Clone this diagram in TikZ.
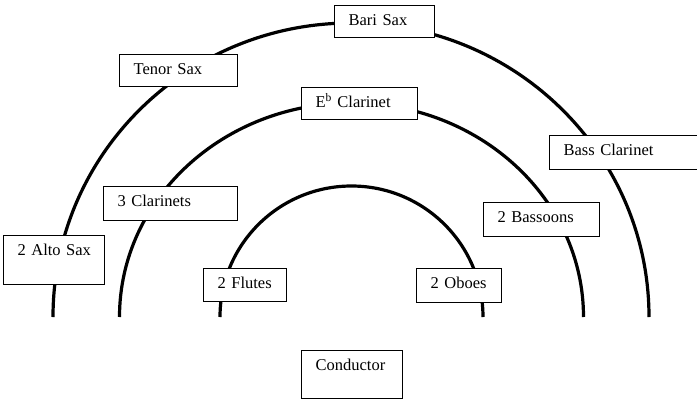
\documentclass[tikz,border=0pt]{standalone}
\usepackage{fontspec}
\setmainfont{Liberation Serif}
\begin{document}
\begin{tikzpicture}[x=1pt, y=-1pt,
  row/.style={line width=3.2pt},
  seat/.style={draw, line width=1.2pt, fill=white, anchor=north west,
    inner xsep=14pt, inner ysep=0pt, align=left, text height=20pt,
    font=\fontsize{16.5}{19}\selectfont}]
\useasboundingbox (0,0) rectangle (697,399);

\coordinate (outer) at (53,317);
\coordinate (middle) at (119.5,317);
\coordinate (inner) at (220,317);
\draw [row] (outer) arc [start angle=180, end angle=0, x radius=298pt, y radius=294pt];
\draw [row] (middle) arc [start angle=180, end angle=0, x radius=232pt, y radius=214pt];
\draw [row] (inner) arc [start angle=180, end angle=0, x radius=131.5pt, y radius=131pt];

\node [seat, text width=72pt, text depth=12pt] (bari) at (334,5) {Bari~Sax};
\node [seat, text width=90pt, text depth=12pt] (tenor) at (119,54) {Tenor~Sax};
\node [seat, text width=88pt, text depth=12pt] (eflat) at (301,87) {E\textsuperscript{b}~Clarinet};
\node [seat, text width=132pt, text depth=14pt] (bass) at (549,135) {Bass~Clarinet};
\node [seat, text width=106pt, text depth=14pt] (clarinets) at (103,186) {3~Clarinets};
\node [seat, text width=88pt, text depth=14pt] (bassoons) at (483,202) {2~Bassoons};
\node [seat, text width=73pt, text depth=29pt] (alto) at (3,235) {2~Alto~Sax};
\node [seat, text width=55pt, text depth=13pt] (flutes) at (203,268) {2~Flutes};
\node [seat, text width=57pt, text depth=14pt] (oboes) at (416,268) {2~Oboes};
\node [seat, text width=73pt, text depth=28pt] (conductor) at (301,350) {Conductor};
\end{tikzpicture}
\end{document}
